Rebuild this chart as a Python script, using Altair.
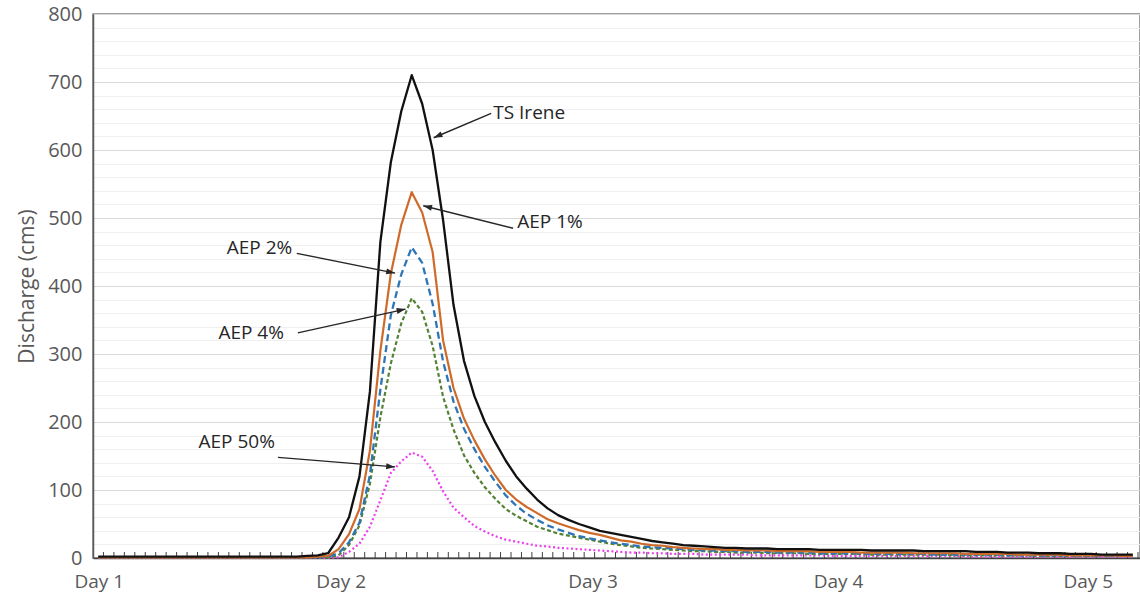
import math
import altair as alt
import pandas as pd

# ---------------- data (hourly hydrographs) ----------------
hours = list(range(100))

ts_irene = ([2] * 20 +
            [3, 4, 7, 30, 60, 120, 245, 465, 582, 657,
             710, 668, 600, 497, 372, 290, 238, 200, 170, 143,
             120, 102, 86, 73, 63, 56, 50, 45, 40, 37,
             34, 31, 28, 25, 23, 21, 19, 18, 17, 16,
             15, 15, 14, 14, 14, 13, 13, 13, 13, 12,
             12, 12, 12, 12, 11, 11, 11, 11, 11, 10,
             10, 10, 10, 10, 9, 9, 9, 8, 8, 8,
             7, 7, 7, 6, 6, 6, 5, 5, 5, 5])

aep_1 = ([1] * 20 +
         [1, 2, 3, 13, 35, 72, 158, 305, 418, 490,
          538, 508, 450, 320, 250, 205, 173, 145, 121, 100,
          86, 75, 66, 57, 51, 46, 41, 37, 34, 30,
          26, 24, 21, 19, 18, 16, 15, 14, 13, 13,
          12, 12, 11, 11, 11, 10, 10, 10, 10, 9,
          9, 9, 9, 8, 8, 8, 8, 8, 7, 7,
          7, 7, 7, 6, 6, 6, 6, 6, 5, 5,
          5, 5, 5, 4, 4, 4, 4, 4, 3, 3])

aep_2 = ([1] * 20 +
         [1, 1, 2, 7, 23, 52, 122, 248, 357, 417,
          457, 434, 374, 289, 230, 190, 160, 134, 112, 92,
          77, 65, 56, 48, 42, 37, 32, 29, 26, 23,
          21, 19, 17, 16, 15, 14, 13, 12, 11, 11,
          10, 10, 9, 9, 9, 8, 8, 8, 8, 7,
          7, 7, 7, 7, 6, 6, 6, 6, 6, 6,
          5, 5, 5, 5, 5, 5, 5, 4, 4, 4,
          4, 4, 4, 4, 3, 3, 3, 3, 3, 3])

aep_4 = ([1] * 20 +
         [1, 1, 1, 4, 19, 48, 109, 207, 286, 345,
          382, 362, 312, 237, 189, 151, 125, 104, 87, 72,
          62, 54, 46, 41, 36, 33, 30, 27, 24, 21,
          19, 17, 15, 14, 13, 12, 11, 10, 10, 9,
          9, 8, 8, 8, 7, 7, 7, 7, 6, 6,
          6, 6, 6, 6, 5, 5, 5, 5, 5, 5,
          5, 5, 4, 4, 4, 4, 4, 4, 4, 4,
          3, 3, 3, 3, 3, 3, 3, 3, 3, 3])

aep_50 = ([0] * 20 +
          [0, 0, 0, 1, 9, 21, 46, 85, 125, 142,
           155, 149, 128, 98, 74, 60, 47, 39, 32, 27,
           24, 21, 18, 17, 15, 14, 13, 12, 11, 10,
           9, 8, 8, 7, 7, 6, 6, 6, 5, 5,
           5, 5, 5, 4, 4, 4, 4, 4, 4, 4,
           3, 3, 3, 3, 3, 3, 3, 3, 3, 3,
           3, 3, 3, 2, 2, 2, 2, 2, 2, 2,
           2, 2, 2, 2, 2, 2, 2, 2, 2, 2])

series_names = ["AEP 50%", "AEP 4%", "AEP 2%", "AEP 1%", "TS Irene"]
series_values = [aep_50, aep_4, aep_2, aep_1, ts_irene]

# x-axis tick labels (positions in hours)
day_labels = ["Day 1", "Day 2", "Day 3", "Day 4", "Day 5"]
day_positions = [0.05, 23.2, 47.3, 70.8, 94.7]

# annotation labels with arrow start / tip (hours, discharge)
ann_text = ["TS Irene", "AEP 1%", "AEP 2%", "AEP 4%", "AEP 50%"]
ann_tx = [37.8, 40.1, 12.3, 11.5, 9.6]
ann_ty = [654, 494, 456, 331, 171]
arr_x1 = [37.6, 39.7, 19.0, 19.1, 17.2]
arr_y1 = [654, 485, 448, 331, 148]
arr_x2 = [32.1, 31.1, 28.4, 29.4, 28.4]
arr_y2 = [618, 518, 419, 366, 134]

# ---------------- layout / styles ----------------
W, H = 1047, 544
X_DOM = [-0.5, 99.69]
Y_DOM = [0, 800]
FONT = "Open Sans"

styles = {
    "TS Irene": dict(color="#111111", strokeWidth=2.3),
    "AEP 1%": dict(color="#CF6B2A", strokeWidth=2.2),
    "AEP 2%": dict(color="#2E75B6", strokeWidth=2.3, strokeDash=[7, 4]),
    "AEP 4%": dict(color="#548235", strokeWidth=2.2, strokeDash=[4, 2.5]),
    "AEP 50%": dict(color="#EE3FEE", strokeWidth=2.2, strokeDash=[2, 2.5]),
}

x_scale = alt.Scale(domain=X_DOM, nice=False, zero=False)
y_scale = alt.Scale(domain=Y_DOM, nice=False, zero=False)

label_expr = " : ".join(
    f"abs(datum.value - {p}) < 0.5 ? '{t}'" for p, t in zip(day_positions, day_labels)
) + " : ''"

x_axis = alt.Axis(
    values=day_positions, labelExpr=label_expr, ticks=False, grid=False,
    labelFlush=False, labelPadding=14, labelFontSize=19, labelFont=FONT,
    labelColor="#595959", domainColor="#404040", domainWidth=1.5, title=None,
)
y_axis = alt.Axis(
    values=list(range(0, 801, 20)),
    labelExpr="datum.value % 100 === 0 ? datum.label : ''",
    ticks=False, labelPadding=11, labelFontSize=20, labelFont=FONT,
    labelColor="#595959", domainColor="#595959", domainWidth=1.5,
    gridColor={"condition": {"test": "datum.value % 100 === 0", "value": "#d9d9d9"},
               "value": "#efefef"},
    gridWidth=1.2,
    title="Discharge (cms)", titleFont=FONT, titleFontSize=21,
    titleFontWeight="normal", titleColor="#595959", titlePadding=10,
)


def X(field):
    return alt.X(field, type="quantitative", scale=x_scale, axis=x_axis)


def Y(field):
    return alt.Y(field, type="quantitative", scale=y_scale, axis=y_axis)


layers = []

# inside tick marks on the category axis
tick_df = pd.DataFrame({"t": [h + 0.5 for h in hours]})
layers.append(
    alt.Chart(tick_df).mark_rule(color="#404040", strokeWidth=1).encode(
        x=X("t"), y=alt.value(H), y2=alt.value(H - 6)
    )
)

for name, vals in zip(series_names, series_values):
    df = pd.DataFrame({"hour": hours, "q": vals})
    layers.append(
        alt.Chart(df).mark_line(strokeJoin="round", **styles[name]).encode(
            x=X("hour"), y=Y("q")
        )
    )

# arrows
px_per_h = W / (X_DOM[1] - X_DOM[0])
px_per_q = H / (Y_DOM[1] - Y_DOM[0])
angles = []
for a, b, c, d in zip(arr_x1, arr_y1, arr_x2, arr_y2):
    dx = (c - a) * px_per_h
    dy = -(d - b) * px_per_q
    ang = math.degrees(math.atan2(dx, -dy)) % 360
    angles.append(ang)

arr_df = pd.DataFrame({"x1": arr_x1, "y1": arr_y1, "x2": arr_x2, "y2": arr_y2,
                       "ang": angles})
layers.append(
    alt.Chart(arr_df).mark_rule(color="#262626", strokeWidth=1.4).encode(
        x=X("x1"), y=Y("y1"), x2="x2", y2="y2"
    )
)
layers.append(
    alt.Chart(arr_df).mark_point(
        shape="M0,0L-0.75,2.2L0.75,2.2Z", filled=True, color="#262626",
        opacity=1, size=64,
    ).encode(x=X("x2"), y=Y("y2"), angle=alt.Angle("ang:Q", scale=None))
)

txt_df = pd.DataFrame({"x": ann_tx, "y": ann_ty, "label": ann_text})
layers.append(
    alt.Chart(txt_df).mark_text(
        align="left", baseline="middle", font=FONT, fontSize=19, color="#262626"
    ).encode(x=X("x"), y=Y("y"), text="label")
)

chart = alt.layer(*layers).properties(
    width=W, height=H,
    autosize=alt.AutoSizeParams(type="none"),
    padding={"left": 93, "top": 14, "right": 0, "bottom": 42},
    background="white",
).configure_view(stroke="#808080", strokeWidth=1.5)

chart.save("out.html", embed_options={"renderer": "svg", "actions": False})
